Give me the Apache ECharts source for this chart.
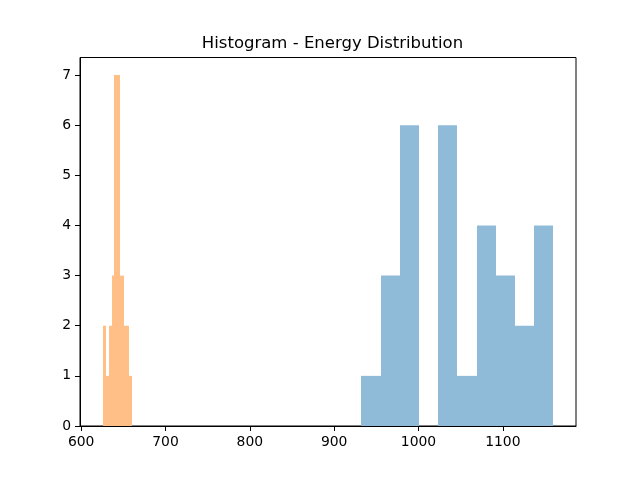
<!DOCTYPE html>
<html>
<head>
<meta charset="utf-8">
<script src="https://cdn.jsdelivr.net/npm/echarts@6/dist/echarts.min.js"></script>
<style>
html,body{margin:0;padding:0;background:#fff;}
#chart{width:639px;height:479px;}
</style>
</head>
<body>
<div id="chart"></div>
<script>
// Bin edges and counts
const blueEdges = [932.4, 955.2, 977.9, 1000.7, 1023.5, 1046.2, 1069.0, 1091.8, 1114.5, 1137.3, 1160.1];
const blueCounts = [1, 3, 6, 0, 6, 1, 4, 3, 2, 4];
const orangeEdges = [625.3, 628.9, 632.4, 636.0, 639.5, 643.1, 646.6, 650.2, 653.7, 657.3, 660.8];
const orangeCounts = [2, 1, 2, 3, 7, 7, 3, 2, 2, 1];
const xTicks = [600, 700, 800, 900, 1000, 1100];
const yTicks = [0, 1, 2, 3, 4, 5, 6, 7];

function toBins(edges, counts) {
  return counts.map((c, i) => [edges[i], edges[i + 1], c]);
}

function renderBar(params, api) {
  const p1 = api.coord([api.value(0), api.value(2)]);
  const p2 = api.coord([api.value(1), 0]);
  const x1 = Math.round(p1[0]);
  const x2 = Math.round(p2[0]);
  return {
    type: 'rect',
    shape: { x: x1, y: p1[1], width: x2 - x1, height: p2[1] - p1[1] },
    style: api.style()
  };
}

const font = 'DejaVu Sans';
const chart = echarts.init(document.getElementById('chart'));
chart.setOption({
  animation: false,
  backgroundColor: '#fff',
  title: {
    text: 'Histogram - Energy Distribution',
    left: 327.5, textAlign: 'center', top: 30,
    textStyle: { fontFamily: font, fontSize: 16.5, fontWeight: 'normal', color: '#000' }
  },
  grid: {
    left: 80, right: 63, top: 57.5, bottom: 53,
    show: true, borderColor: '#000', borderWidth: 1, backgroundColor: 'transparent'
  },
  xAxis: {
    type: 'value', min: 598.6, max: 1186.8,
    splitLine: { show: false },
    axisLine: { show: true, onZero: false, lineStyle: { color: '#000', width: 1 } },
    axisTick: { show: true, length: 5, customValues: xTicks, lineStyle: { color: '#000' } },
    axisLabel: { customValues: xTicks, margin: 9, fontFamily: font, fontSize: 13.9, color: '#000',
      formatter: v => String(v) }
  },
  yAxis: {
    type: 'value', min: 0, max: 7.35,
    splitLine: { show: false },
    axisLine: { show: true, lineStyle: { color: '#000', width: 1 } },
    axisTick: { show: true, length: 5, customValues: yTicks, lineStyle: { color: '#000' } },
    axisLabel: { customValues: yTicks, margin: 9, fontFamily: font, fontSize: 13.9, color: '#000',
      formatter: v => String(v) }
  },
  series: [
    {
      type: 'custom', name: 'blue', renderItem: renderBar,
      encode: { x: [0, 1], y: 2 },
      itemStyle: { color: '#8fbbd9' },
      data: toBins(blueEdges, blueCounts)
    },
    {
      type: 'custom', name: 'orange', renderItem: renderBar,
      encode: { x: [0, 1], y: 2 },
      itemStyle: { color: '#ffbf86' },
      data: toBins(orangeEdges, orangeCounts)
    }
  ]
});
</script>
</body>
</html>
